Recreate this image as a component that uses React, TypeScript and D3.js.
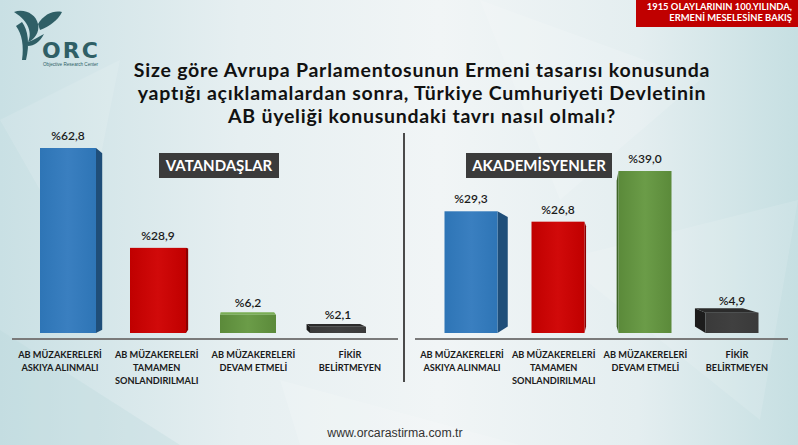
import React from "react";
import * as d3 from "d3";

const categories = [
  ["AB MÜZAKERELERİ", "ASKIYA ALINMALI"],
  ["AB MÜZAKERELERİ", "TAMAMEN", "SONLANDIRILMALI"],
  ["AB MÜZAKERELERİ", "DEVAM ETMELİ"],
  ["FİKİR", "BELİRTMEYEN"],
];
const catKeys = ["askiya", "tamamen", "devam", "fikir"];
const citizensValues = [62.8, 28.9, 6.2, 2.1];
const academicsValues = [29.3, 26.8, 39.0, 4.9];
const valueLabelsCitizens = ["%62,8", "%28,9", "%6,2", "%2,1"];
const valueLabelsAcademics = ["%29,3", "%26,8", "%39,0", "%4,9"];
const titleLines = [
  "Size göre Avrupa Parlamentosunun Ermeni tasarısı konusunda",
  "yaptığı açıklamalardan sonra, Türkiye Cumhuriyeti Devletinin",
  "AB üyeliği konusundaki tavrı nasıl olmalı?",
];
const panelTitles = ["VATANDAŞLAR", "AKADEMİSYENLER"];
const headerLines = ["1915 OLAYLARININ 100.YILINDA,", "ERMENİ MESELESİNE BAKIŞ"];

const barColors = [
  { front: "#2e75b6", front2: "#3a7fc0", side: "#1f4e79", top: "#4a8ccc" },
  { front: "#c00000", front2: "#d10a0a", side: "#8c0000", top: "#e03030" },
  { front: "#5b8a3a", front2: "#6b9c48", side: "#3e6527", top: "#7aae55" },
  { front: "#3a3a3a", front2: "#404040", side: "#1c1c1c", top: "#2b2b2b" },
];

const FONT = "Lato, 'Open Sans', sans-serif";

type P = [number, number];

function Bar3D({ x0, x1, yTop, yBot, vx, vy, k, c, id }: any) {
  const back = (p: P): P => [vx + (p[0] - vx) * k, vy + (p[1] - vy) * k];
  const fTL: P = [x0, yTop], fTR: P = [x1, yTop], fBL: P = [x0, yBot], fBR: P = [x1, yBot];
  const bTL = back(fTL), bTR = back(fTR), bBL = back(fBL), bBR = back(fBR);
  const poly = (pts: P[]) => pts.map((p) => p.join(",")).join(" ");
  const faces: any[] = [];
  if (x1 < vx) faces.push(<polygon key="r" points={poly([fTR, bTR, bBR, fBR])} fill={c.side} />);
  if (x0 > vx) faces.push(<polygon key="l" points={poly([fTL, bTL, bBL, fBL])} fill={c.side} />);
  if (yTop > vy) faces.push(<polygon key="t" points={poly([fTL, bTL, bTR, fTR])} fill={c.top} />);
  return (
    <g>
      {faces}
      <rect x={x0} y={yTop} width={x1 - x0} height={yBot - yTop} fill={`url(#${id})`} />
    </g>
  );
}

function Panel({ values, labels, title, xBars, xLabels, barW, yScale, vx, vy, k, axisX, titleBox, gid }: any) {
  return (
    <g>
      {values.map((v: number, i: number) => {
        const cx = xBars(catKeys[i]) as number;
        const yTop = yScale(v);
        const yBot = yScale(0);
        return (
          <g key={i}>
            <Bar3D x0={cx - barW / 2} x1={cx + barW / 2} yTop={yTop} yBot={yBot} vx={vx} vy={vy} k={k} c={barColors[i]} id={`${gid}${i}`} />
            <text x={cx} y={yTop - 8} textAnchor="middle" fontFamily={FONT} fontSize={12} fontWeight={600} fill="#1a1a1a">
              {labels[i]}
            </text>
          </g>
        );
      })}
      <line x1={axisX[0]} x2={axisX[1]} y1={339} y2={339} stroke="#7a7a7a" strokeWidth={2} />
      {categories.map((lines, i) => (
        <text key={i} x={xLabels(catKeys[i]) as number} y={358} textAnchor="middle" fontFamily={FONT} fontSize={9.2} fontWeight={700} fill="#1a1a1a">
          {lines.map((l, j) => (
            <tspan key={j} x={xLabels(catKeys[i]) as number} dy={j === 0 ? 0 : 13}>
              {l}
            </tspan>
          ))}
        </text>
      ))}
      <rect x={titleBox[0]} y={153} width={titleBox[1] - titleBox[0]} height={25} fill="#3b3b3b" />
      <text x={(titleBox[0] + titleBox[1]) / 2} y={171} textAnchor="middle" fontFamily={FONT} fontSize={15} fontWeight={700} fill="#ffffff">
        {title}
      </text>
    </g>
  );
}

export default function App() {
  const W = 798, H = 445;
  const yLeft = d3.scaleLinear().domain([0, 62.8]).range([333, 148]);
  const yRight = d3.scaleLinear().domain([0, 39]).range([333, 171]);
  const xBarsLeft = d3.scalePoint().domain(catKeys).range([68, 338]);
  const xLabelsLeft = d3.scalePoint().domain(catKeys).range([60, 350]);
  const xBarsRight = d3.scalePoint().domain(catKeys).range([471, 732]);
  const xLabelsRight = d3.scalePoint().domain(catKeys).range([462, 737]);

  const grads: any[] = [];
  ["L", "R"].forEach((g) =>
    barColors.forEach((c, i) =>
      grads.push(
        <linearGradient key={g + i} id={`${g}${i}`} x1="0" y1="0" x2="1" y2="0">
          <stop offset="0" stopColor={c.front} />
          <stop offset="0.5" stopColor={c.front2} />
          <stop offset="1" stopColor={c.front} />
        </linearGradient>
      )
    )
  );

  return (
    <svg width={W} height={H} style={{ position: "absolute", left: 0, top: 0 }}>
      <defs>
        <linearGradient id="bg" x1="0" y1="0" x2="1" y2="0">
          <stop offset="0" stopColor="#c9e0e4" />
          <stop offset="0.3" stopColor="#e6eff1" />
          <stop offset="0.55" stopColor="#f1f5f6" />
          <stop offset="0.8" stopColor="#e4eef0" />
          <stop offset="1" stopColor="#c6dfe2" />
        </linearGradient>
        {grads}
      </defs>
      <rect width={W} height={H} fill="url(#bg)" />
      {/* faint low-poly shapes */}
      <polygon points="0,120 120,60 80,260" fill="#ffffff" opacity={0.12} />
      <polygon points="480,0 700,80 560,200" fill="#ffffff" opacity={0.15} />
      <polygon points="560,260 798,200 760,420" fill="#ffffff" opacity={0.12} />
      <polygon points="0,330 180,445 0,445" fill="#b9d6db" opacity={0.3} />
      <polygon points="280,380 520,445 300,445" fill="#ffffff" opacity={0.15} />

      {/* header */}
      <rect x={636} y={0} width={162} height={27} fill="#c00000" />
      {headerLines.map((l, i) => (
        <text key={i} x={792} y={10 + i * 11} textAnchor="end" fontFamily={FONT} fontSize={9.4} fontWeight={700} fill="#ffffff">
          {l}
        </text>
      ))}

      {/* logo */}
      <g fill="#2f5f66">
        <path d="M14,12 C24,8 36,14 38,24 C40,32 34,40 28,42 C32,34 30,22 14,12 Z" />
        <path d="M38,24 C44,14 54,10 62,12 C58,20 50,26 40,30 Z" />
        <path d="M22,22 C28,30 30,44 26,60 L22,60 C24,46 22,34 16,26 Z" />
        <path d="M28,42 C34,40 40,36 44,34 C40,42 34,46 28,46 Z" />
      </g>
      <text x={42} y={58} fontFamily="'DejaVu Sans', sans-serif" fontSize={22} fontWeight={700} fill="#2f5f66" letterSpacing={2}>
        ORC
      </text>
      <text x={43} y={66} fontFamily="'Liberation Sans', Arial, sans-serif" fontSize={4.6} fill="#2f5f66">
        Objective Research Center
      </text>

      {/* title */}
      {titleLines.map((l, i) => (
        <text key={i} x={422} y={77 + i * 23} textAnchor="middle" fontFamily={FONT} fontSize={19.5} fontWeight={700} letterSpacing={0.75} fill="#111111">
          {l}
        </text>
      ))}

      {/* divider */}
      <line x1={404} x2={404} y1={133} y2={382} stroke="#4a4a4a" strokeWidth={2} />

      <Panel
        values={citizensValues}
        labels={valueLabelsCitizens}
        title={panelTitles[0]}
        xBars={xBarsLeft}
        xLabels={xLabelsLeft}
        barW={56}
        yScale={yLeft}
        vx={234}
        vy={262}
        k={0.955}
        axisX={[12, 398]}
        titleBox={[159, 279]}
        gid="L"
      />
      <Panel
        values={academicsValues}
        labels={valueLabelsAcademics}
        title={panelTitles[1]}
        xBars={xBarsRight}
        xLabels={xLabelsRight}
        barW={53}
        yScale={yRight}
        vx={600}
        vy={268}
        k={0.9}
        axisX={[415, 788]}
        titleBox={[466, 612]}
        gid="R"
      />

      {/* footer */}
      <text x={395} y={437} textAnchor="middle" fontFamily="'Liberation Sans', Arial, sans-serif" fontSize={12.3} fill="#333333">
        www.orcarastirma.com.tr
      </text>
    </svg>
  );
}
